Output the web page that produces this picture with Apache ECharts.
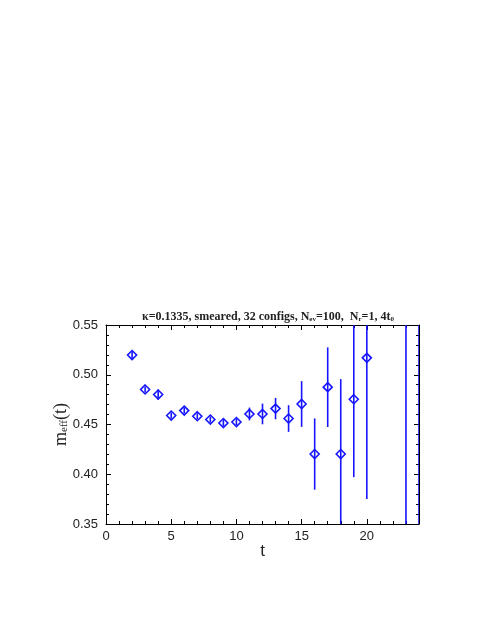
<!DOCTYPE html>
<html>
<head>
<meta charset="utf-8">
<script src="https://cdn.jsdelivr.net/npm/echarts@6/dist/echarts.min.js"></script>
<style>
  html, body { margin: 0; padding: 0; background: #fff; }
  #chart { width: 491px; height: 635px; }
</style>
</head>
<body>
<div id="chart"></div>
<script>
// effective mass vs t
const tVals = [2, 3, 4, 5, 6, 7, 8, 9, 10, 11, 12, 13, 14, 15, 16, 17, 18, 19, 20, 23, 24];
const mEff  = [0.5198, 0.4852, 0.4801, 0.4590, 0.4640, 0.4583, 0.4550, 0.4515, 0.4525, 0.4606, 0.4606, 0.4660, 0.4560, 0.4706, 0.4203, 0.4875, 0.4203, 0.4754, 0.5170, 0.30, 0.30];
const mErr  = [0.0035, 0.0030, 0.0050, 0.0030, 0.0030, 0.0030, 0.0030, 0.0030, 0.0030, 0.0064, 0.0104, 0.0107, 0.0134, 0.0230, 0.0358, 0.0400, 0.0753, 0.0783, 0.1418, 0.40, 0.40];
const xTicks = [0, 5, 10, 15, 20];
const yTicks = [0.35, 0.40, 0.45, 0.50, 0.55];

const points = tVals.map((t, i) => [t, mEff[i], mErr[i]]);
const blue = '#1515ff';

const chart = echarts.init(document.getElementById('chart'), null, { renderer: 'canvas' });

const axisCommon = {
  axisLine: { show: true, onZero: false, lineStyle: { color: '#000', width: 1 } },
  axisTick: { show: true, inside: true, length: 5, lineStyle: { color: '#000' } },
  minorTick: { show: true, splitNumber: 5, length: 3, lineStyle: { color: '#000' } },
  splitLine: { show: false }
};

chart.setOption({
  animation: false,
  title: {
    text: '{b|κ=0.1335, smeared, 32 configs, N}{s|ev}{b|=100,  N}{s|r}{b|=1, 4t}{s|0}',
    left: 263, textAlign: 'center', top: 302,
    textStyle: {
      rich: {
        b: { fontFamily: 'Liberation Serif', fontWeight: 'bold', fontSize: 12, color: '#222', lineHeight: 16, verticalAlign: 'bottom' },
        s: { fontFamily: 'Liberation Serif', fontWeight: 'bold', fontSize: 7, color: '#222', lineHeight: 6, verticalAlign: 'bottom' }
      }
    }
  },
  grid: { left: 106, right: 72, top: 325, bottom: 111 },
  xAxis: [
    Object.assign({}, axisCommon, {
      type: 'value', min: 0, max: 24, interval: 5, position: 'bottom',
      axisLabel: {
        fontFamily: 'Liberation Sans', fontSize: 13, color: '#222', margin: 6,
        formatter: v => xTicks.includes(v) ? String(v) : ''
      },
      name: 't', nameLocation: 'middle', nameGap: 19, nameMoveOverlap: false,
      nameTextStyle: { fontFamily: 'Liberation Sans', fontSize: 17, color: '#222' }
    }),
    Object.assign({}, axisCommon, {
      type: 'value', min: 0, max: 24, interval: 5, position: 'top',
      axisLabel: { show: false }
    })
  ],
  yAxis: [
    Object.assign({}, axisCommon, {
      type: 'value', min: 0.35, max: 0.55, interval: 0.05, position: 'left',
      axisLabel: {
        fontFamily: 'Liberation Sans', fontSize: 13, color: '#222', margin: 8,
        formatter: v => yTicks.some(y => Math.abs(y - v) < 1e-9) ? v.toFixed(2) : ''
      },
      name: '{m|m}{s|eff}{m|(t)}', nameLocation: 'middle', nameGap: 36, nameRotate: 90,
      nameMoveOverlap: false,
      nameTextStyle: {
        rich: {
          m: { fontFamily: 'Liberation Serif', fontSize: 18, color: '#222', lineHeight: 22, verticalAlign: 'bottom' },
          s: { fontFamily: 'Liberation Serif', fontSize: 11, color: '#222', lineHeight: 10, verticalAlign: 'bottom' }
        }
      }
    }),
    Object.assign({}, axisCommon, {
      type: 'value', min: 0.35, max: 0.55, interval: 0.05, position: 'right',
      axisLabel: { show: false }
    })
  ],
  series: [{
    type: 'custom',
    clip: true,
    xAxisIndex: 0, yAxisIndex: 0,
    data: points,
    renderItem: (params, api) => {
      const t = api.value(0), m = api.value(1), e = api.value(2);
      const c = api.coord([t, m]);
      const lo = api.coord([t, m - e]);
      const hi = api.coord([t, m + e]);
      const r = 4.5;
      return {
        type: 'group',
        children: [
          { type: 'line', shape: { x1: c[0], y1: lo[1], x2: c[0], y2: hi[1] },
            style: { stroke: blue, lineWidth: 1.6 } },
          { type: 'polygon',
            shape: { points: [[c[0], c[1] - r], [c[0] + r, c[1]], [c[0], c[1] + r], [c[0] - r, c[1]]] },
            style: { fill: 'none', stroke: blue, lineWidth: 1.6 } }
        ]
      };
    }
  }]
});
</script>
</body>
</html>
